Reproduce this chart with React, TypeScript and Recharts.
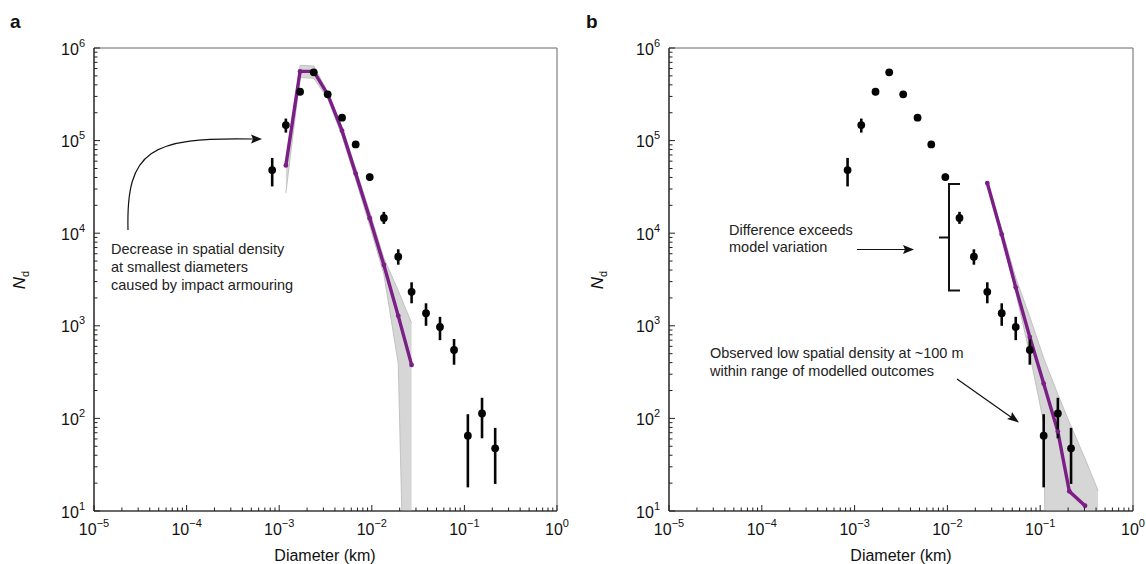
import React from "react";
import {
  ComposedChart,
  XAxis,
  YAxis,
  Line,
  Area,
  Scatter,
  ErrorBar,
  ReferenceArea,
} from "recharts";

// observed crater counts (both panels show the same data)
const diameterKm = [
  0.00084, 0.00118, 0.00168, 0.00236, 0.00334, 0.00477, 0.0067, 0.0095, 0.0135,
  0.0193, 0.0269, 0.0385, 0.0545, 0.0773, 0.109, 0.155, 0.215,
];
const observedNd = [
  48000, 147000, 337000, 546000, 316000, 177000, 91000, 40400, 14600, 5570,
  2330, 1370, 970, 548, 65, 113, 47.5,
];
const observedLow = [
  32000, 122000, 310000, 525000, 296000, 165000, 84000, 37000, 12600, 4570,
  1750, 1000, 700, 380, 18, 61, 19.6,
];
const observedHigh = [
  65000, 173000, 365000, 570000, 338000, 190000, 98000, 44000, 17000, 6700,
  2950, 1750, 1250, 720, 111, 167, 79,
];

// panel a model (impact armouring)
const modelADiam = [
  0.00118, 0.00168, 0.00236, 0.00334, 0.00477, 0.0067, 0.0095, 0.0135, 0.0193, 0.0269,
];
const modelANd = [54000, 559000, 559000, 315000, 128000, 44000, 14500, 4540, 1280, 378];
const bandALow = [27000, 480000, 470000, 285000, 112000, 38000, 12000, 3600, 390, 0.0004];
const bandAHigh = [60000, 650000, 640000, 335000, 140000, 50000, 17000, 5400, 2400, 1070];

// panel b model
const modelBDiam = [0.0269, 0.0385, 0.0545, 0.0773, 0.109, 0.155, 0.206, 0.304];
const modelBNd = [34800, 9700, 2600, 755, 238, 72, 16.3, 11.4];
const bandBDiam = [0.0269, 0.0385, 0.0545, 0.0773, 0.109, 0.155, 0.206, 0.304, 0.42];
const bandBLow = [33500, 9000, 2300, 490, 90, 1e-10, 1e-10, 1e-10, 1e-10];
const bandBHigh = [36500, 11000, 3300, 1250, 450, 182, 91, 37, 16.6];

// log tick positions (labels only on the decades)
const xDecades = [-5, -4, -3, -2, -1, 0];
const yDecades = [1, 2, 3, 4, 5, 6];
const minorSteps = [1, 2, 3, 4, 5, 6, 7, 8, 9];

const FONT = '"Liberation Sans", Arial, Helvetica, sans-serif';
const PURPLE = "#7b1f86";
const AXIS = "#222";

const logTicks = (decades: number[]) => {
  const out: number[] = [];
  decades.forEach((d, i) => {
    const steps = i === decades.length - 1 ? [1] : minorSteps;
    steps.forEach((m) => out.push(Number((m * Math.pow(10, d)).toPrecision(6))));
  });
  return out;
};
const xTicks = logTicks(xDecades);
const yTicks = logTicks(yDecades);

const isDecade = (v: number) => {
  const l = Math.log10(v);
  return Math.abs(l - Math.round(l)) < 1e-6;
};
const expText = (v: number) => {
  const e = Math.round(Math.log10(v));
  return e < 0 ? `\u2212${-e}` : `${e}`;
};

function XTick(props: any) {
  const { x, y, payload } = props;
  const major = isDecade(payload.value);
  const len = major ? 6 : 3.5;
  return (
    <g>
      <line x1={x} x2={x} y1={y} y2={y - len} stroke={AXIS} strokeWidth={1} />
      {major && (
        <text x={x} y={y + 24} textAnchor="middle" fontSize={16} fill="#111" fontFamily={FONT}>
          <tspan>10</tspan>
          <tspan dy={-8} fontSize={11}>
            {expText(payload.value)}
          </tspan>
        </text>
      )}
    </g>
  );
}

function YTick(props: any) {
  const { x, y, payload } = props;
  const major = isDecade(payload.value);
  const len = major ? 6 : 3.5;
  return (
    <g>
      <line x1={x} x2={x + len} y1={y} y2={y} stroke={AXIS} strokeWidth={1} />
      {major && (
        <text x={x - 9} y={y + 6.5} textAnchor="end" fontSize={16} fill="#111" fontFamily={FONT}>
          <tspan>10</tspan>
          <tspan dy={-8} fontSize={11}>
            {expText(payload.value)}
          </tspan>
        </text>
      )}
    </g>
  );
}

const dot = (p: any) =>
  p.cx == null ? <g /> : <circle cx={p.cx} cy={p.cy} r={3.9} fill="#050505" />;

const observedData = diameterKm.map((d, i) => ({
  x: d,
  y: observedNd[i],
  err: [observedNd[i] - observedLow[i], observedHigh[i] - observedNd[i]],
}));
const lineData = (xs: number[], ys: number[]) => xs.map((x, i) => ({ x, y: ys[i] }));
const bandData = (xs: number[], lo: number[], hi: number[]) =>
  xs.map((x, i) => ({ x, range: [lo[i], hi[i]] }));

function Panel(props: {
  width: number;
  marginLeft: number;
  marginRight: number;
  model: { x: number; y: number }[];
  band: { x: number; range: number[] }[];
}) {
  return (
    <ComposedChart
      width={props.width}
      height={564}
      margin={{ top: 48, right: props.marginRight, bottom: 23, left: props.marginLeft }}
    >
      <XAxis
        dataKey="x"
        type="number"
        scale="log"
        domain={[1e-5, 1]}
        ticks={xTicks}
        interval={0}
        allowDataOverflow
        height={30}
        tickSize={0}
        tickMargin={0}
        tick={<XTick />}
        axisLine={{ stroke: AXIS, strokeWidth: 1.2 }}
        tickLine={false}
      />
      <YAxis
        type="number"
        scale="log"
        domain={[10, 1e6]}
        ticks={yTicks}
        interval={0}
        allowDataOverflow
        width={60}
        tickSize={0}
        tickMargin={0}
        tick={<YTick />}
        axisLine={{ stroke: AXIS, strokeWidth: 1.2 }}
        tickLine={false}
      />
      <ReferenceArea
        x1={1e-5}
        x2={1}
        y1={10}
        y2={1e6}
        fill="none"
        stroke="#666"
        strokeWidth={1}
        ifOverflow="visible"
      />
      <Area
        data={props.band}
        dataKey="range"
        type="linear"
        fill="#d6d6d6"
        fillOpacity={1}
        stroke="#b8b8b8"
        strokeWidth={0.8}
        isAnimationActive={false}
      />
      <Line
        data={props.model}
        dataKey="y"
        type="linear"
        stroke={PURPLE}
        strokeWidth={3.4}
        dot={{ r: 2.4, fill: PURPLE, stroke: "none" }}
        isAnimationActive={false}
      />
      <Scatter data={observedData} dataKey="y" shape={dot} isAnimationActive={false}>
        <ErrorBar
          dataKey="err"
          direction="y"
          width={0}
          stroke="#050505"
          strokeWidth={2.6}
          isAnimationActive={false}
        />
      </Scatter>
    </ComposedChart>
  );
}

const txt = { fontFamily: FONT, fontSize: 14.5, fill: "#222" };

export default function App() {
  return (
    <div
      style={{
        position: "absolute",
        left: 0,
        top: 0,
        width: 1146,
        height: 564,
        background: "#fff",
        overflow: "hidden",
      }}
    >
      <div style={{ position: "absolute", left: 0, top: 0 }}>
        <Panel
          width={580}
          marginLeft={34}
          marginRight={23}
          model={lineData(modelADiam, modelANd)}
          band={bandData(modelADiam, bandALow, bandAHigh)}
        />
      </div>
      <div style={{ position: "absolute", left: 580, top: 0 }}>
        <Panel
          width={566}
          marginLeft={29}
          marginRight={13}
          model={lineData(modelBDiam, modelBNd)}
          band={bandData(bandBDiam, bandBLow, bandBHigh)}
        />
      </div>
      <svg
        width={1146}
        height={564}
        style={{ position: "absolute", left: 0, top: 0, pointerEvents: "none" }}
      >
        {/* panel letters */}
        <text x={10} y={28} fontFamily={FONT} fontWeight="bold" fontSize={19} fill="#111">
          a
        </text>
        <text x={586} y={28} fontFamily={FONT} fontWeight="bold" fontSize={19} fill="#111">
          b
        </text>

        {/* axis titles */}
        {[325, 901].map((cx) => (
          <text key={cx} x={cx} y={561} textAnchor="middle" fontFamily={FONT} fontSize={16} fill="#111">
            Diameter (km)
          </text>
        ))}
        {[25, 603].map((bx) => (
          <text
            key={bx}
            transform={`translate(${bx},280) rotate(-90)`}
            textAnchor="middle"
            fontFamily={FONT}
            fontSize={17}
            fill="#111"
          >
            <tspan fontStyle="italic">N</tspan>
            <tspan dy={4} fontSize={11}>
              d
            </tspan>
          </text>
        ))}

        {/* panel a annotation */}
        <text x={111} y={254} {...txt}>
          Decrease in spatial density
        </text>
        <text x={111} y={272} {...txt}>
          at smallest diameters
        </text>
        <text x={111} y={290} {...txt}>
          caused by impact armouring
        </text>
        <path d="M128 230 C126 150 150 137 253 139" fill="none" stroke="#111" strokeWidth={1.2} />
        <polygon points="262,139 251,134.5 253,139 251,143.5" fill="#111" />

        {/* panel b annotations */}
        <text x={729} y={235} {...txt}>
          Difference exceeds
        </text>
        <text x={729} y={252} {...txt}>
          model variation
        </text>
        <line x1={857} y1={249.5} x2={906} y2={249.5} stroke="#111" strokeWidth={1.2} />
        <polygon points="914,249.5 903,245 905,249.5 903,254" fill="#111" />
        <path
          d="M960 184 L949 184 L949 290.5 L960 290.5 M949 237.5 L939 237.5"
          fill="none"
          stroke="#111"
          strokeWidth={2}
        />

        <text x={710} y={358} {...txt}>
          Observed low spatial density at ~100 m
        </text>
        <text x={710} y={376} {...txt}>
          within range of modelled outcomes
        </text>
        <line x1={957} y1={379} x2={1013} y2={418.5} stroke="#111" strokeWidth={1.2} />
        <polygon points="1019,422.5 1007,419 1011,417 1012,412" fill="#111" />
      </svg>
    </div>
  );
}
